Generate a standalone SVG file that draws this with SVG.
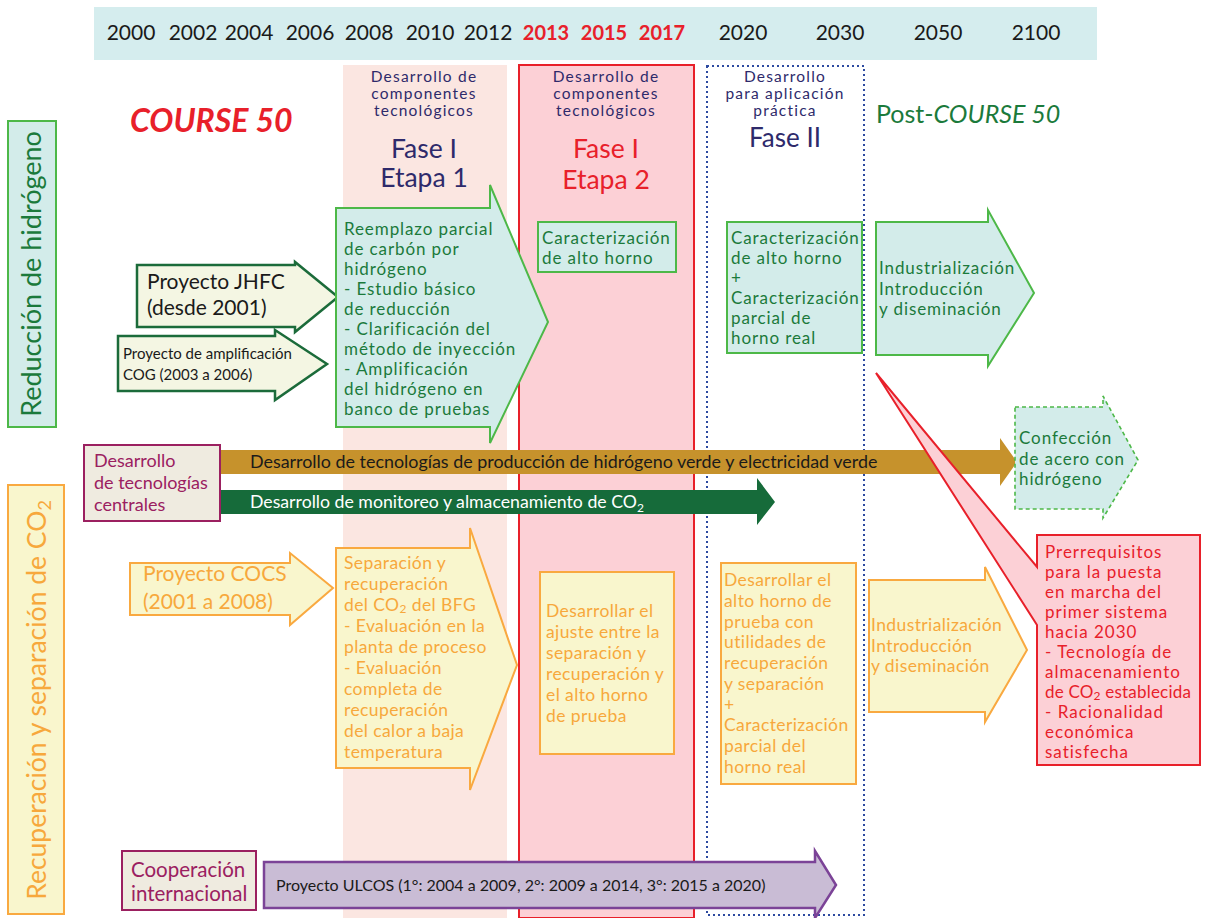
<svg xmlns="http://www.w3.org/2000/svg" width="1208" height="918" viewBox="0 0 1208 918">
<style>
text{font-family:Lato,"Open Sans","Liberation Sans",sans-serif}
.yr{font-size:21px;fill:#1a1a1a;text-anchor:middle}
.yrr{font-size:20px;fill:#e8202a;font-weight:bold;text-anchor:middle}
.nv{fill:#2e2a6b;text-anchor:middle}
.hd{fill:#2e2a6b;text-anchor:middle;font-size:15.5px;letter-spacing:1.2px}
.gt{fill:#1b7a3b;font-size:17px;letter-spacing:0.9px}
.ot{fill:#f7a83c;font-size:17.5px;letter-spacing:0.4px}
.rt{fill:#e8202a;font-size:17px;letter-spacing:1px}
.mt{fill:#9b2060;font-size:18px}
.gbox{fill:#d3ecea;stroke:#4db848;stroke-width:2}
.obox{fill:#f9f6cd;stroke:#f9a940;stroke-width:2}
.mbox{fill:#efebe0;stroke:#9b2060;stroke-width:2}
</style>
<rect width="1208" height="918" fill="#fff"/>
<g id="timeline">
<rect x="94" y="7" width="1003" height="53" fill="#d5edee"/>
<text class="yr" x="131" y="40">2000</text>
<text class="yr" x="193" y="40">2002</text>
<text class="yr" x="249" y="40">2004</text>
<text class="yr" x="310" y="40">2006</text>
<text class="yr" x="369" y="40">2008</text>
<text class="yr" x="430" y="40">2010</text>
<text class="yr" x="488" y="40">2012</text>
<text class="yrr" x="546" y="40">2013</text>
<text class="yrr" x="604" y="40">2015</text>
<text class="yrr" x="662" y="40">2017</text>
<text class="yr" x="743" y="40">2020</text>
<text class="yr" x="840" y="40">2030</text>
<text class="yr" x="938" y="40">2050</text>
<text class="yr" x="1036" y="40">2100</text>
</g>
<g id="phase1-stage1">
<rect x="343" y="65" width="164" height="853" fill="#fbe6e1"/>
<text class="hd" x="424" y="82">Desarrollo de</text>
<text class="hd" x="424" y="99">componentes</text>
<text class="hd" x="424" y="116">tecnológicos</text>
<text class="nv" font-size="26.5" x="424" y="158">Fase I</text>
<text class="nv" font-size="26.5" x="424" y="187">Etapa 1</text>
</g>
<g id="phase1-stage2">
<rect x="519" y="65" width="175" height="853" fill="#fcd0d6" stroke="#e8202a" stroke-width="2"/>
<text class="hd" x="606" y="82">Desarrollo de</text>
<text class="hd" x="606" y="99">componentes</text>
<text class="hd" x="606" y="116">tecnológicos</text>
<text font-size="26.5" fill="#e8202a" text-anchor="middle" x="606" y="158">Fase I</text>
<text font-size="26.5" fill="#e8202a" text-anchor="middle" x="606" y="189">Etapa 2</text>
</g>
<g id="phase2">
<rect x="707" y="66" width="157" height="849" fill="none" stroke="#2d4aa0" stroke-width="2" stroke-dasharray="2,3"/>
<text class="hd" x="785" y="82">Desarrollo</text>
<text class="hd" x="785" y="99">para aplicación</text>
<text class="hd" x="785" y="116">práctica</text>
<text class="nv" font-size="26" x="785" y="147">Fase II</text>
</g>
<g id="title">
<text x="130" y="132" font-size="32" font-weight="bold" font-style="italic" fill="#e8202a">COURSE 50</text>
</g>
<g id="post-title">
<text x="876" y="123" font-size="25" fill="#1b7a3b">Post-<tspan font-style="italic">COURSE 50</tspan></text>
</g>
<g id="label-h2">
<rect class="gbox" x="8" y="121" width="48" height="306"/>
<text transform="rotate(-90 41 274)" x="41" y="274" font-size="27" fill="#1b7a3b" text-anchor="middle">Reducción de hidrógeno</text>
</g>
<g id="label-co2">
<rect class="obox" x="8" y="485" width="56" height="429"/>
<text transform="rotate(-90 46 700)" x="46" y="700" font-size="26.5" fill="#f7a83c" text-anchor="middle">Recuperación y separación de CO<tspan font-size="18" dy="5">2</tspan></text>
</g>
<g id="jhfc">
<path d="M137,265 H295 V262 L338,297 L295,332 V327 H137 Z" fill="#f4f6e3" stroke="#1b6b3a" stroke-width="2.5"/>
<text x="147" y="289" font-size="21" fill="#1a1a1a">Proyecto JHFC</text>
<text x="147" y="315" font-size="21" fill="#1a1a1a">(desde 2001)</text>
</g>
<g id="cog">
<path d="M118,336 H275 V330 L327,364 L275,400 V391 H118 Z" fill="#f4f6e3" stroke="#1b6b3a" stroke-width="2.5"/>
<text x="123" y="359" font-size="15" fill="#1a1a1a">Proyecto de amplificación</text>
<text x="123" y="380" font-size="15" fill="#1a1a1a">COG (2003 a 2006)</text>
</g>
<g id="h2-stage1">
<path class="gbox" d="M336,208 H490 V185 L548,322 L490,443 V427 H336 Z"/>
<text class="gt" x="344" y="235">Reemplazo parcial</text>
<text class="gt" x="344" y="255">de carbón por</text>
<text class="gt" x="344" y="275">hidrógeno</text>
<text class="gt" x="344" y="295">- Estudio básico</text>
<text class="gt" x="344" y="315">de reducción</text>
<text class="gt" x="344" y="335">- Clarificación del</text>
<text class="gt" x="344" y="355">método de inyección</text>
<text class="gt" x="344" y="375">- Amplificación</text>
<text class="gt" x="344" y="395">del hidrógeno en</text>
<text class="gt" x="344" y="415">banco de pruebas</text>
</g>
<g id="h2-stage2">
<rect class="gbox" x="538" y="222" width="138" height="50"/>
<text class="gt" x="542" y="244">Caracterización</text>
<text class="gt" x="542" y="264">de alto horno</text>
</g>
<g id="h2-phase2">
<rect class="gbox" x="727" y="222" width="135" height="131"/>
<text class="gt" x="731" y="244">Caracterización</text>
<text class="gt" x="731" y="264">de alto horno</text>
<text class="gt" x="731" y="284">+</text>
<text class="gt" x="731" y="304">Caracterización</text>
<text class="gt" x="731" y="324">parcial de</text>
<text class="gt" x="731" y="344">horno real</text>
</g>
<g id="h2-post">
<path class="gbox" d="M876,222 H988 V210 L1034,293 L988,366 V355 H876 Z"/>
<text class="gt" x="879" y="274">Industrialización</text>
<text class="gt" x="879" y="295">Introducción</text>
<text class="gt" x="879" y="315">y diseminación</text>
</g>
<g id="core-tech">
<rect class="mbox" x="84" y="445" width="136" height="76"/>
<text class="mt" x="94" y="467">Desarrollo</text>
<text class="mt" x="94" y="489">de tecnologías</text>
<text class="mt" x="94" y="511">centrales</text>
</g>
<g id="green-h2-arrow">
<path d="M221,450 H1000 V438 L1017,462 L1000,486 V474 H221 Z" fill="#c6922c"/>
<text x="250" y="468" font-size="17.9" fill="#1a1a1a">Desarrollo de tecnologías de producción de hidrógeno verde y electricidad verde</text>
</g>
<g id="co2-storage-arrow">
<path d="M221,490 H757 V478 L775,502 L757,525 V514 H221 Z" fill="#166b3a"/>
<text x="250" y="508" font-size="17.7" fill="#fff">Desarrollo de monitoreo y almacenamiento de CO<tspan font-size="12" dy="4">2</tspan></text>
</g>
<g id="h2-steel">
<path d="M1015,407 H1103 V396 L1138,460 L1103,518 V509 H1015 Z" fill="#d3ecea" stroke="#4db848" stroke-width="1.6" stroke-dasharray="4,3"/>
<text class="gt" x="1019" y="444">Confección</text>
<text class="gt" x="1019" y="465">de acero con</text>
<text class="gt" x="1019" y="485">hidrógeno</text>
</g>
<g id="prerequisites">
<path d="M876,373 L1037,567 V535 H1200 V765 H1037 V625 Z" fill="#fcd0d6" stroke="#e8202a" stroke-width="2"/>
<text class="rt" x="1045" y="558">Prerrequisitos</text>
<text class="rt" x="1045" y="578">para la puesta</text>
<text class="rt" x="1045" y="598">en marcha del</text>
<text class="rt" x="1045" y="618">primer sistema</text>
<text class="rt" x="1045" y="638">hacia 2030</text>
<text class="rt" x="1045" y="658">- Tecnología de</text>
<text class="rt" x="1045" y="678">almacenamiento</text>
<text class="rt" x="1045" y="698" style="letter-spacing:0.2px">de CO<tspan font-size="12" dy="2">2</tspan><tspan dy="-2"> establecida</tspan></text>
<text class="rt" x="1045" y="718">- Racionalidad</text>
<text class="rt" x="1045" y="738">económica</text>
<text class="rt" x="1045" y="758">satisfecha</text>
</g>
<g id="cocs">
<path class="obox" d="M130,563 H290 V553 L333,588 L290,625 V615 H130 Z"/>
<text class="ot" style="font-size:21px;letter-spacing:0" x="143" y="581">Proyecto COCS</text>
<text class="ot" style="font-size:21px;letter-spacing:0" x="143" y="609">(2001 a 2008)</text>
</g>
<g id="co2-stage1">
<path class="obox" d="M336,548 H470 V528 L517,665 L470,790 V768 H336 Z"/>
<text class="ot" x="344" y="569">Separación y</text>
<text class="ot" x="344" y="590">recuperación</text>
<text class="ot" x="344" y="611">del CO<tspan font-size="12" dy="2">2</tspan><tspan dy="-2"> del BFG</tspan></text>
<text class="ot" x="344" y="632">- Evaluación en la</text>
<text class="ot" x="344" y="653">planta de proceso</text>
<text class="ot" x="344" y="674">- Evaluación</text>
<text class="ot" x="344" y="695">completa de</text>
<text class="ot" x="344" y="716">recuperación</text>
<text class="ot" x="344" y="737">del calor a baja</text>
<text class="ot" x="344" y="758">temperatura</text>
</g>
<g id="co2-stage2">
<rect class="obox" x="540" y="572" width="134" height="182"/>
<text class="ot" x="546" y="617">Desarrollar el</text>
<text class="ot" x="546" y="638">ajuste entre la</text>
<text class="ot" x="546" y="659">separación y</text>
<text class="ot" x="546" y="680">recuperación y</text>
<text class="ot" x="546" y="701">el alto horno</text>
<text class="ot" x="546" y="722">de prueba</text>
</g>
<g id="co2-phase2">
<rect class="obox" x="721" y="563" width="135" height="221"/>
<text class="ot" x="724" y="586">Desarrollar el</text>
<text class="ot" x="724" y="607">alto horno de</text>
<text class="ot" x="724" y="628">prueba con</text>
<text class="ot" x="724" y="648">utilidades de</text>
<text class="ot" x="724" y="669">recuperación</text>
<text class="ot" x="724" y="690">y separación</text>
<text class="ot" x="724" y="711">+</text>
<text class="ot" x="724" y="731">Caracterización</text>
<text class="ot" x="724" y="752">parcial del</text>
<text class="ot" x="724" y="773">horno real</text>
</g>
<g id="co2-post">
<path class="obox" d="M869,580 H985 V567 L1027,650 L985,722 V712 H869 Z"/>
<text class="ot" x="871" y="631">Industrialización</text>
<text class="ot" x="871" y="652">Introducción</text>
<text class="ot" x="871" y="672">y diseminación</text>
</g>
<g id="intl-coop">
<rect class="mbox" x="122" y="851" width="134" height="59"/>
<text class="mt" style="font-size:20.5px" x="131" y="877">Cooperación</text>
<text class="mt" style="font-size:20.5px" x="131" y="901">internacional</text>
</g>
<g id="ulcos">
<path d="M264,862 H815 V851 L836,885 L815,918 V908 H264 Z" fill="#c9bcd5" stroke="#7b4397" stroke-width="2.5"/>
<text x="276" y="891" font-size="16" fill="#1a1a1a">Proyecto ULCOS (1°: 2004 a 2009, 2°: 2009 a 2014, 3°: 2015 a 2020)</text>
</g>
<g id="connectors"></g>
</svg>
